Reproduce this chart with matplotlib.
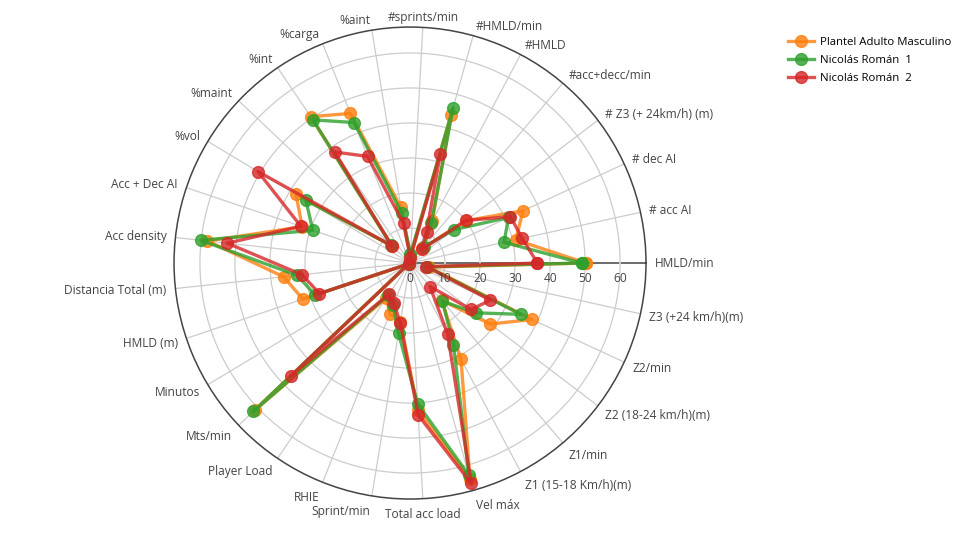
import numpy as np
import matplotlib
matplotlib.use("agg")
import matplotlib.pyplot as plt

plt.rcParams["font.family"] = ["Open Sans", "DejaVu Sans"]

categories = ["HMLD/min", "# acc AI", "# dec AI", "# Z3 (+ 24km/h) (m)", "#acc+decc/min",
              "#HMLD", "#HMLD/min", "#sprints/min", "%aint", "%carga", "%int", "%maint",
              "%vol", "Acc + Dec AI", "Acc density", "Distancia Total (m)", "HMLD (m)",
              "Minutos", "Mts/min", "Player Load", "RHIE", "Sprint/min", "Total acc load",
              "Vel máx", "Z1 (15-18 Km/h)(m)", "Z1/min", "Z2 (18-24 km/h)(m)", "Z2/min",
              "Z3 (+24 km/h)(m)"]

plantel = [50.2, 30.9, 35.6, 20.0, 5.5, 13.5, 44.0, 2.0, 16.2, 46.0, 50.5, 7.0, 38.0, 32.5,
           58.2, 36.3, 32.3, 0.5, 61.0, 12.0, 15.6, 17.0, 42.0, 64.0, 31.1, 14.0, 28.8, 38.4, 5.5]
nicolas1 = [49.0, 27.5, 31.0, 15.8, 6.0, 13.0, 46.0, 2.5, 14.5, 43.2, 49.4, 7.3, 34.7, 29.3,
            60.1, 32.4, 28.6, 0.5, 61.6, 11.0, 13.0, 20.3, 40.3, 62.9, 26.5, 14.3, 23.5, 34.9, 5.0]
nicolas2 = [36.4, 32.8, 31.6, 20.1, 5.1, 10.1, 32.3, 1.5, 11.5, 32.8, 38.3, 7.2, 50.7, 32.9,
            52.5, 31.0, 27.3, 0.5, 46.9, 10.7, 12.4, 17.3, 43.5, 65.3, 22.9, 8.8, 21.9, 25.3, 4.8]

series = [("Plantel Adulto Masculino", plantel, "#ff7f0e"),
          ("Nicolás Román  1", nicolas1, "#2ca02c"),
          ("Nicolás Román  2", nicolas2, "#d62728")]

rticks = [0, 10, 20, 30, 40, 50, 60]
rmax = 67.4

n = len(categories)
theta = np.arange(n) * 2 * np.pi / n

fig = plt.figure(figsize=(9.6, 5.4), dpi=100)
ax = fig.add_axes([0.18125, 0.0759, 0.4917, 0.874], projection="polar")

for name, vals, col in series:
    t = np.append(theta, theta[0])
    v = np.append(vals, vals[0])
    ax.plot(t, v, color=col, lw=2.4, alpha=0.8, marker="o", ms=8.5, label=name,
            solid_joinstyle="round")

ax.set_ylim(0, rmax)
ax.set_yticks(rticks[1:])
ax.set_yticklabels([])
ax.set_xticks(theta)
ax.set_xticklabels([])
ax.grid(True, color="#cccccc", lw=0.9)
gl = ax.xaxis.get_gridlines()
gl[0].set_color("#444444")
gl[0].set_linewidth(1.1)
ax.tick_params(axis="x", direction="out", length=5, color="#444444", width=1)
ax.spines["polar"].set_color("#444444")
ax.spines["polar"].set_linewidth(1.1)

for r in rticks:
    ax.annotate(str(r), xy=(0, r), xytext=(0, -15), textcoords="offset pixels",
                ha="center", va="center", fontsize=8.6, color="#444444")

for ang, lab in zip(theta, categories):
    c, s = np.cos(ang), np.sin(ang)
    if c > 0.1:
        ha = "left"
    elif c < -0.1:
        ha = "right"
    else:
        ha = "center"
    dy = 10 * s if s > 0 else 16 * s
    ax.annotate(lab, xy=(ang, rmax), xytext=(9 * c, dy), textcoords="offset pixels",
                ha=ha, va="center", fontsize=8.6, color="#444444", annotation_clip=False)

fig.legend(loc="upper left", bbox_to_anchor=(0.81, 0.95), frameon=False, fontsize=8.2,
           handlelength=2.3, handletextpad=0.5, labelspacing=0.6, markerscale=1.0)

fig.savefig("out.png", dpi=100)
